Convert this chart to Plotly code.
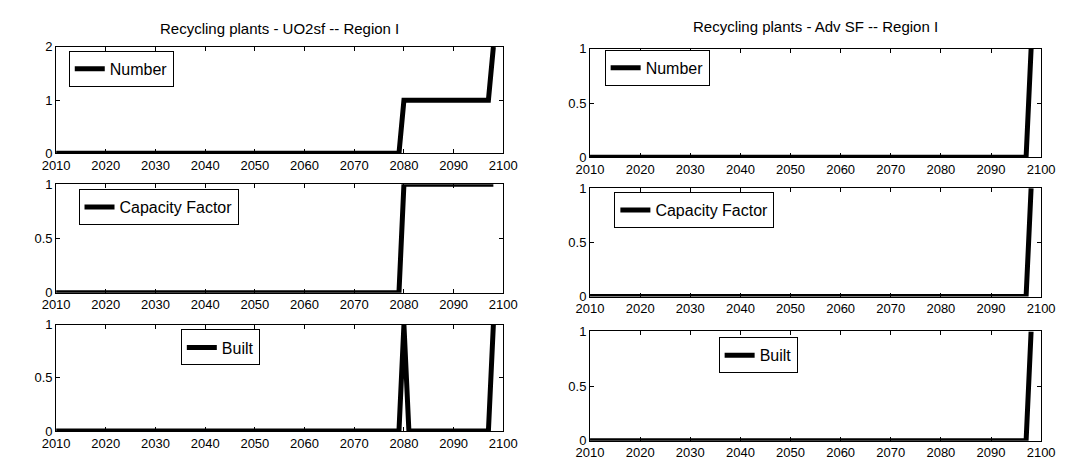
import plotly.graph_objects as go

# ---------------- data ----------------
years = list(range(2010, 2099))

# Left column: UO2sf
uo2_number = [0] * 70 + [1] * 18 + [2]          # 2010..2079 = 0, 2080..2097 = 1, 2098 = 2
uo2_capacity = [0] * 70 + [1] * 19              # 2080..2098 = 1
uo2_built = [0] * 70 + [1] + [0] * 17 + [1]     # 2080 = 1, 2098 = 1

# Right column: Adv SF
adv_number = [0] * 88 + [1]
adv_capacity = [0] * 88 + [1]
adv_built = [0] * 88 + [1]

series_names = ["Number", "Capacity Factor", "Built"]
left_title = "Recycling plants - UO2sf -- Region I"
right_title = "Recycling plants - Adv SF -- Region I"
x_ticks = list(range(2010, 2101, 10))

# ---------------- layout helpers ----------------
W, H = 1090, 464
FONT = "Liberation Sans, Arial, sans-serif"

def xd(a, b):
    return [a / W, b / W]

def yd(top, bottom):
    return [1 - bottom / H, 1 - top / H]

# plot boxes in pixels: (x0, x1, ytop, ybottom)
boxes = [
    (35, 494, 33, 143),    # left row1
    (35, 494, 175, 287),   # left row2
    (35, 494, 320, 430),   # left row3
    (583, 1046, 35, 147),  # right row1
    (583, 1046, 179, 291), # right row2
    (583, 1046, 327, 440), # right row3
]
data_sets = [uo2_number, uo2_capacity, uo2_built, adv_number, adv_capacity, adv_built]
names = series_names + series_names
yranges = [[0, 2], [0, 1], [0, 1], [0, 1], [0, 1], [0, 1]]
yticks = [[0, 1, 2], [0, 0.5, 1], [0, 0.5, 1], [0, 0.5, 1], [0, 0.5, 1], [0, 0.5, 1]]
# legend boxes: (x0, ytop)
legend_pos = [
    (48, 37), (58, 180), (163, 325),
    (598, 36), (608, 183), (715, 333),
]

fig = go.Figure()
layout = dict(
    width=W, height=H,
    margin=dict(l=0, r=0, t=0, b=0),
    paper_bgcolor="white", plot_bgcolor="white",
    font=dict(family=FONT, size=13, color="black"),
    showlegend=True,
)

for i, (box, ys, nm, yr, yt, lp) in enumerate(zip(boxes, data_sets, names, yranges, yticks, legend_pos)):
    k = "" if i == 0 else str(i + 1)
    lg = "legend" if i == 0 else "legend" + str(i + 1)
    fig.add_trace(go.Scatter(
        x=years, y=ys, mode="lines", name=nm,
        line=dict(color="black", width=5),
        xaxis="x" + k, yaxis="y" + k, legend=lg,
    ))
    x0, x1, yt0, yb0 = box
    axis_common = dict(
        showline=True, linecolor="black", linewidth=1, mirror="ticks",
        ticks="inside", ticklen=4, tickcolor="black", showgrid=False,
        zeroline=False, tickfont=dict(family=FONT, size=13, color="black"),
    )
    layout["xaxis" + k] = dict(
        domain=xd(x0, x1), anchor="y" + k, range=[2010, 2100],
        tickvals=x_ticks, ticktext=[str(t) for t in x_ticks], **axis_common,
    )
    layout["yaxis" + k] = dict(
        domain=yd(yt0, yb0), anchor="x" + k, range=yr,
        tickvals=yt, ticktext=[("%g" % v) for v in yt], **axis_common,
    )
    layout[lg] = dict(
        x=lp[0] / W, y=1 - lp[1] / H, xanchor="left", yanchor="top",
        bgcolor="white", bordercolor="black", borderwidth=1,
        font=dict(family=FONT, size=16, color="black"),
        itemwidth=30, tracegroupgap=0,
    )

fig.update_layout(**layout)

fig.add_annotation(text=left_title, x=(35 + 494) / 2 / W, y=1 - 14 / H, xref="paper", yref="paper",
                   xanchor="center", yanchor="middle",
                   showarrow=False, font=dict(family=FONT, size=15, color="black"))
fig.add_annotation(text=right_title, x=(583 + 1046) / 2 / W, y=1 - 12 / H, xref="paper", yref="paper",
                   xanchor="center", yanchor="middle",
                   showarrow=False, font=dict(family=FONT, size=15, color="black"))

fig.write_html("out.html")
